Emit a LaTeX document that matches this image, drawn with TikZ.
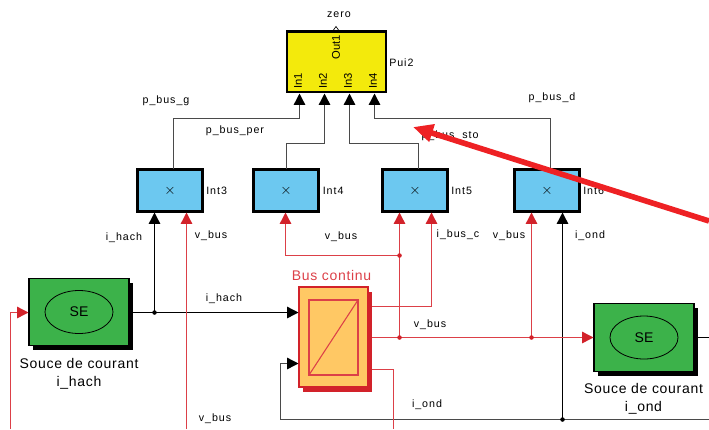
\documentclass[tikz,border=0pt]{standalone}
\usepackage{fontspec}
\setmainfont{Liberation Sans}
\newfontfamily\lblfont[LetterSpace=9]{Liberation Sans}
\newfontfamily\bigfont[LetterSpace=5]{Liberation Sans}
\usetikzlibrary{arrows.meta,shadows,shapes.geometric}
\definecolor{yel}{HTML}{F3EA0C}
\definecolor{sky}{HTML}{6CC8F0}
\definecolor{grn}{HTML}{3CB24A}
\definecolor{org}{HTML}{FFC864}
\definecolor{rd}{HTML}{D2222A}
\definecolor{rdl}{HTML}{DC4048}
\definecolor{rdb}{HTML}{EE2124}
\definecolor{gl}{HTML}{4A4A4A}
\def\pxu{0.75pt}
\tikzset{
 x=0.75pt,y=-0.75pt,
 bbase/.style={inner sep=0,outer sep=0,rectangle},
 prod/.style={bbase,draw=black,line width=1.9pt,fill=sky,minimum width=64.5*\pxu,minimum height=41.5*\pxu,font=\fontsize{10.5pt}{10.5pt}\selectfont},
 puib/.style={bbase,draw=black,line width=1.9pt,fill=yel,minimum width=99*\pxu,minimum height=60.5*\pxu},
 sebox/.style={bbase,draw=black,line width=0.8pt,fill=grn,minimum width=100*\pxu,minimum height=67.5*\pxu,
   general shadow={fill=black,shadow xshift=3.2pt,shadow yshift=-3.2pt}},
 seel/.style={ellipse,draw=black,line width=0.6pt,inner sep=0,minimum width=68*\pxu,minimum height=43*\pxu,font=\fontsize{10.5pt}{10.5pt}\selectfont},
 busb/.style={bbase,draw=rd,line width=0.9pt,fill=org,minimum width=69*\pxu,minimum height=100*\pxu,
   general shadow={fill=rd,shadow xshift=3.2pt,shadow yshift=-3.6pt}},
 ibox/.style={bbase,draw=rdl,line width=0.9pt,minimum width=49*\pxu,minimum height=75*\pxu},
 lbl/.style={inner sep=0,font=\fontsize{8pt}{9pt}\lblfont},
 bigl/.style={inner sep=0,align=center,font=\fontsize{10.5pt}{13.5pt}\bigfont},
 port/.style={inner sep=0,rotate=90,font=\fontsize{8.4pt}{9pt}\selectfont},
 blkl/.style={draw=black,line width=1.05pt},
 gryl/.style={draw=gl,line width=1.05pt},
 redl/.style={draw=rdl,line width=1.05pt},
 redh/.style={redl,-{Triangle[length=8.5pt,width=8.5pt,color=rd]}},
 blkh/.style={blkl,-{Triangle[length=8.5pt,width=8.5pt,color=black]}},
 gryh/.style={gryl,-{Triangle[length=8.5pt,width=8.5pt,color=black]}},
 dotk/.style={circle,fill=black,draw=none,inner sep=0,minimum size=3.4pt},
 dotr/.style={circle,fill=rd,draw=none,inner sep=0,minimum size=3.4pt},
}
\begin{document}
\begin{tikzpicture}
\useasboundingbox (0,0) rectangle (709,429);
% blocks
\node[puib] (pui) at (336.7,61.7) {};
\node[prod] (int3) at (170,190.5) {$\times$};
\node[prod] (int4) at (286,190.5) {$\times$};
\node[prod] (int5) at (415,190.5) {$\times$};
\node[prod] (int6) at (547,190.5) {$\times$};
\node[sebox] (se1) at (79,312) {};
\node[seel] (el1) at (79,312) {SE};
\node[sebox] (se2) at (644,337.5) {};
\node[seel] (el2) at (644,337.5) {SE};
\node[busb] (bus) at (333.5,337) {};
\node[ibox] (ibus) at (333.5,337.5) {};
\draw[rdl,line width=0.8pt] (ibus.south west) -- (ibus.north east);
% block inscriptions
\node[port] at (298,81) {In1};
\node[port] at (323,81) {In2};
\node[port] at (348,81) {In3};
\node[port] at (373,81) {In4};
\node[port] at (336,47) {Out1};
\draw[black,line width=0.5pt] (333.5,30) -- (336,26.5) -- (338.5,30);
% coordinates
\coordinate (in1) at (299.5,93.5);
\coordinate (in2) at (324.5,93.5);
\coordinate (in3) at (349.5,93.5);
\coordinate (in4) at (374.5,93.5);
\coordinate (o3) at (173.5,169);
\coordinate (o4) at (286.5,169);
\coordinate (o5) at (418.5,169);
\coordinate (o6) at (550.5,169);
\coordinate (j1) at (154.5,312.5);
\coordinate (j2) at (399.5,337.5);
\coordinate (j3) at (399.5,255.5);
\coordinate (j4) at (531.5,337.5);
\coordinate (j5) at (562.5,419.5);
\coordinate (busin1) at (298.5,312.5);
\coordinate (busin2) at (298.5,363.5);
\coordinate (seout1) at (133,312.5);
\coordinate (seout2) at (698,337.5);
\coordinate (redge) at (709,337.5);
\coordinate (bedge) at (709,419.5);
\coordinate (busoutA) at (372,306.5);
\coordinate (busoutB) at (372,337.5);
\coordinate (busoutC) at (372,369.5);
\coordinate (fromb1) at (10.5,429);
\coordinate (fromb2) at (186.5,429);
\coordinate (fromb3) at (393.5,429);
\coordinate (se1in) at (28.5,312.5);
\coordinate (se2in) at (593.5,337.5);
% outputs of products
\draw[gryh] (o3) |- (299.5,118.5) -- (in1);
\draw[gryh] (o4) |- (324.5,143.5) -- (in2);
\draw[gryh] (o5) |- (349.5,143.5) -- (in3);
\draw[gryh] (o6) |- (374.5,118.5) -- (in4);
% black
\draw[blkh] (j1) -- (154.5,212.5);
\draw[blkh] (seout1) -- (busin1);
\draw[blkh] (j5) -- (562.5,212.5);
\draw[gryh] (bedge) -- (280.5,419.5) |- (busin2);
\draw[blkl] (seout2) -- (redge);
% red
\draw[redh] (fromb1) |- (se1in);
\draw[redh] (fromb2) -- (186.5,212.5);
\draw[redh] (j3) -- (285.5,255.5) -- (285.5,212.5);
\draw[redh] (j3) -- (399.5,212.5);
\draw[redl] (j2) -- (j3);
\draw[redh] (busoutA) -| (431.5,212.5);
\draw[redh] (busoutB) -- (se2in);
\draw[redh] (j4) -- (531.5,212.5);
\draw[redl] (busoutC) -| (fromb3);
\node[dotk] at (j1) {};
\node[dotk] at (j5) {};
\node[dotr] at (j2) {};
\node[dotr] at (j3) {};
\node[dotr] at (j4) {};
% labels
\node[lbl] at (339,14.5) {zero};
\node[lbl,anchor=west] at (389,62.5) {Pui2};
\node[lbl] at (166,101) {p\_bus\_g};
\node[lbl] at (235,131) {p\_bus\_per};
\node[lbl] at (450,136) {p\_bus\_sto};
\node[lbl] at (552,98) {p\_bus\_d};
\node[lbl,anchor=west] at (206,190.5) {Int3};
\node[lbl,anchor=west] at (322.5,190.5) {Int4};
\node[lbl,anchor=west] at (451,190.5) {Int5};
\node[lbl,anchor=west] at (583,190.5) {Int6};
\node[lbl] at (124,238) {i\_hach};
\node[lbl] at (211,236) {v\_bus};
\node[lbl] at (341,237) {v\_bus};
\node[lbl] at (458,234.5) {i\_bus\_c};
\node[lbl] at (509,236) {v\_bus};
\node[lbl] at (590,236) {i\_ond};
\node[lbl] at (224,299) {i\_hach};
\node[lbl] at (215,419) {v\_bus};
\node[lbl] at (430,325) {v\_bus};
\node[lbl] at (427,405) {i\_ond};
\node[bigl,text=rdl] at (331.5,275.5) {Bus continu};
\node[bigl] at (79,374) {Souce de courant\\i\_hach};
\node[bigl] at (643.5,399) {Souce de courant\\i\_ond};
% annotation arrow
\coordinate (ann1) at (709,221);
\coordinate (ann2) at (413,127);
\draw[rdb,line width=4.2pt,-{Triangle[length=15pt,width=13pt]}] (ann1) -- (ann2);
\end{tikzpicture}
\end{document}
